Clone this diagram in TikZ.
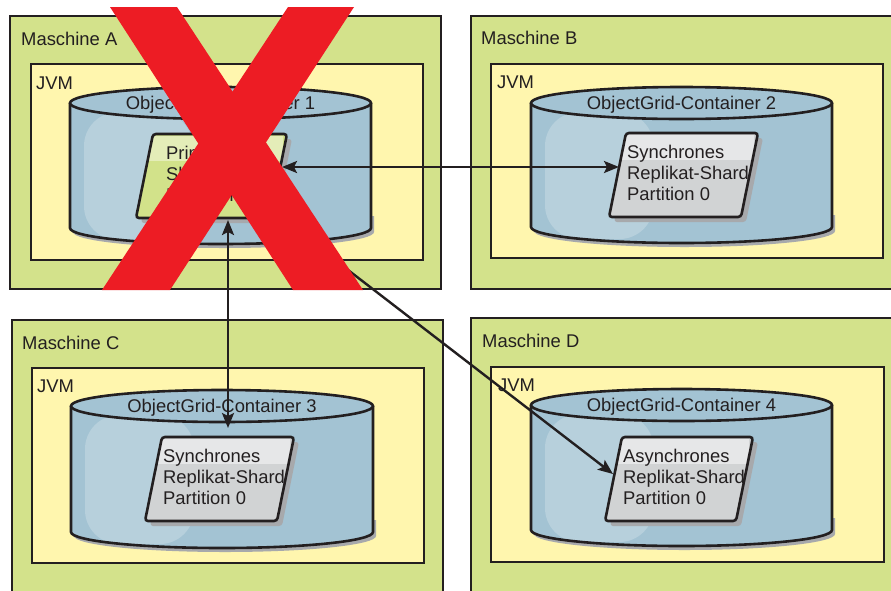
\documentclass[tikz,border=0pt]{standalone}
\usepackage{fontspec}
\setmainfont{Liberation Sans}
\usetikzlibrary{arrows.meta}
\definecolor{machgreen}{RGB}{211,226,139}
\definecolor{jvmyellow}{RGB}{255,246,174}
\definecolor{cylblue}{RGB}{163,195,211}
\definecolor{cylhl}{RGB}{183,208,220}
\definecolor{shardgray}{RGB}{209,211,212}
\definecolor{stripegray}{RGB}{230,231,232}
\definecolor{shardgreen}{RGB}{210,226,138}
\definecolor{stripegreen}{RGB}{228,237,184}
\definecolor{shadowc}{RGB}{167,169,172}
\definecolor{xred}{RGB}{237,28,36}
\definecolor{inkc}{RGB}{35,31,32}
\tikzset{
  machbox/.style={fill=machgreen, draw=inkc, line width=2.8pt},
  jvmbox/.style={fill=jvmyellow, draw=inkc, line width=2.8pt},
  cylline/.style={draw=inkc, line width=2.6pt},
  shardline/.style={draw=inkc, line width=2.6pt, rounded corners=3pt},
  lbl/.style={font=\fontsize{18.4}{21}\selectfont, text=inkc, inner sep=0pt},
  cyllabel/.style={lbl, anchor=base},
  shardtext/.style={lbl, align=left, anchor=north west},
  tipx/.tip={Stealth[length=15pt,width=12pt,inset=3pt]},
  biarr/.style={draw=inkc, line width=2.4pt, tipx-tipx},
  onearr/.style={draw=inkc, line width=2.4pt, -tipx},
  redx/.style={fill=xred}
}
% cylinder: name, cx, rx, top cy, bottom cy, label
\newcommand{\ogcyl}[6]{%
  \fill[shadowc] ({#2-#3+3},{#5-12}) -- ({#2-#3+3},{#5+4}) arc[start angle=180,end angle=360,x radius=#3pt,y radius=16pt] -- ({#2+#3+3},{#5-12}) -- cycle;
  \fill[cylblue] ({#2-#3},#4) -- ({#2-#3},#5) arc[start angle=180,end angle=360,x radius=#3pt,y radius=16pt] -- ({#2+#3},#4) -- cycle;
  \begin{scope}
    \clip ({#2-#3},#4) -- ({#2-#3},#5) arc[start angle=180,end angle=360,x radius=#3pt,y radius=16pt] -- ({#2+#3},#4) -- cycle;
    \fill[cylhl, rounded corners=34pt] ({#2-#3+14},{#4+9}) rectangle ({#2-28},{#5+12});
  \end{scope}
  \draw[cylline] ({#2-#3},#4) -- ({#2-#3},#5) arc[start angle=180,end angle=360,x radius=#3pt,y radius=16pt] -- ({#2+#3},#4);
  \draw[cylline, fill=cylblue] (#2,#4) ellipse[x radius=#3pt, y radius=16pt];
  \node[cyllabel] (#1) at (#2,{#4+6}) {#6};
}
% shard: name, TLx, top, width, fill, stripe, text x, text
\newcommand{\ogshard}[8]{%
  \fill[shadowc, rounded corners=3pt] ({#2+5},{#3+5}) -- ({#2+#4+5},{#3+5}) -- ({#2+#4-17+5},{#3+89}) -- ({#2-12},{#3+89}) -- cycle;
  \begin{scope}
    \clip[rounded corners=3pt] (#2,#3) -- ({#2+#4},#3) -- ({#2+#4-17},{#3+84}) -- ({#2-17},{#3+84}) -- cycle;
    \fill[#5] ({#2-20},#3) rectangle ({#2+#4+5},{#3+84});
    \fill[#6] ({#2-20},{#3+2}) rectangle ({#2+#4-4},{#3+27});
  \end{scope}
  \draw[shardline] (#2,#3) -- ({#2+#4},#3) -- ({#2+#4-17},{#3+84}) -- ({#2-17},{#3+84}) -- cycle;
  \node[shardtext] (#1) at (#7,{#3+11}) {\rule{0pt}{14pt}#8};
}
\begin{document}
\begin{tikzpicture}[x=1pt,y=-1pt]
\useasboundingbox (0,0) rectangle (891,590);
\fill[white] (0,0) rectangle (891,590);
\begin{scope}
\clip (0,0) rectangle (891,590);
% machines
\draw[machbox] (10,16) rectangle (441,289);
\draw[machbox] (471,16) rectangle (905,289);
\draw[machbox] (12,320) rectangle (443,605);
\draw[machbox] (471,318) rectangle (905,605);
\node[lbl, anchor=base west] (mA) at (21,45) {Maschine A};
\node[lbl, anchor=base west] (mB) at (481,44) {Maschine B};
\node[lbl, anchor=base west] (mC) at (22,349) {Maschine C};
\node[lbl, anchor=base west] (mD) at (482,347) {Maschine D};
% JVMs
\draw[jvmbox] (31,64) rectangle (423,260);
\draw[jvmbox] (491,64) rectangle (883,258);
\draw[jvmbox] (32,368) rectangle (424,563);
\draw[jvmbox] (491,367) rectangle (884,562);
\node[lbl, anchor=base west] (jA) at (36,89) {JVM};
\node[lbl, anchor=base west] (jB) at (497,88) {JVM};
\node[lbl, anchor=base west] (jC) at (37,392) {JVM};
\node[lbl, anchor=base west] (jD) at (498,391) {JVM};
% containers
\ogcyl{cA}{220.5}{150.5}{103}{228}{ObjectGrid-Container 1}
\ogcyl{cB}{681.5}{150.5}{103}{227}{ObjectGrid-Container 2}
\ogcyl{cC}{222}{151}{406}{532}{ObjectGrid-Container 3}
\ogcyl{cD}{681.5}{150.5}{405}{530}{ObjectGrid-Container 4}
% shards
\ogshard{sA}{153}{134}{134}{shardgreen}{stripegreen}{166}{Primäres\\Shard\\Partition 0}
\ogshard{sB}{626}{133}{132}{shardgray}{stripegray}{627}{Synchrones\\Replikat-Shard\\Partition 0}
\ogshard{sC}{162}{437}{132}{shardgray}{stripegray}{163}{Synchrones\\Replikat-Shard\\Partition 0}
\ogshard{sD}{622}{437}{131}{shardgray}{stripegray}{623}{Asynchrones\\Replikat-Shard\\Partition 0}
% connector end points
\coordinate (sA-e) at (282,167);
\coordinate (sB-w) at (619,167);
\coordinate (sA-s) at (228,220);
\coordinate (sC-n) at (228,428);
\coordinate (sA-se) at (274,213);
\coordinate (sD-w) at (613,474);
\draw[biarr] (sA-e) -- (sB-w);
\draw[biarr] (sA-s) -- (sC-n);
\draw[onearr] (sA-se) -- (sD-w);
% red cross
\fill[redx] (110,7) -- (177,7) -- (363,290) -- (293,290) -- cycle;
\fill[redx] (288,7) -- (354,7) -- (170,290) -- (102,290) -- cycle;
\end{scope}
\end{tikzpicture}
\end{document}
